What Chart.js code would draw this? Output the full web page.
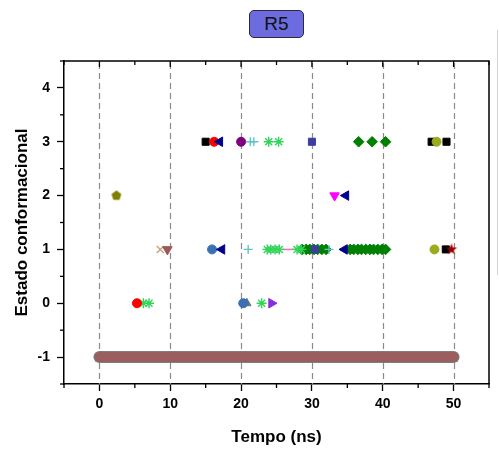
<!DOCTYPE html>
<html>
<head>
<meta charset="utf-8">
<script src="https://cdn.jsdelivr.net/npm/chart.js@4.4.1/dist/chart.umd.min.js"></script>
<style>
  html, body { margin: 0; padding: 0; background: #fff; }
  #wrap { position: relative; width: 499px; height: 454px; overflow: hidden; }
  #c { position: absolute; left: 0; top: 0; width: 499px; height: 454px; }
  #badge {
    position: absolute; left: 249px; top: 10px; width: 55px; height: 28px;
    box-sizing: border-box; background: #6c6ce0; border: 1px solid #2a2a3a;
    border-radius: 5px; color: #111; text-align: center;
    font: 19px "Liberation Sans", Arial, sans-serif; line-height: 26px;
  }
  #edge { position: absolute; left: 497px; top: 30px; width: 1px; height: 245px; background: #d2d2d2; }
</style>
</head>
<body>
<div id="wrap">
  <canvas id="c" width="499" height="454"></canvas>
  <div id="badge">R5</div>
  <div id="edge"></div>
</div>
<script>
// Axis ticks
const xTicks = [0, 10, 20, 30, 40, 50];
const yTicks = [-1, 0, 1, 2, 3, 4];

// Each series: [time (ns), conformational state]
const baseline = [[0, -1], [50, -1]];
const blackSquares = [[15.0, 3], [46.9, 3], [49.0, 3], [48.9, 1]];
const redCircles = [[16.2, 3], [5.3, 0]];
const navyTriangles = [[17.0, 3], [17.3, 1], [34.6, 1], [34.8, 2]];
const purpleCircles = [[20.0, 3]];
const tealPlus = [[21.3, 3], [21.8, 3], [21.0, 1], [32.4, 1]];
const greenAsterisks = [[23.9, 3], [25.3, 3], [23.7, 1], [24.2, 1], [24.8, 1], [25.4, 1],
                        [27.9, 1], [28.5, 1], [22.9, 0], [6.2, 0], [7.0, 0]];
const slateSquares = [[30.0, 3], [30.4, 1]];
const greenDiamonds = [[36.6, 3], [38.5, 3], [40.4, 3],
                       [28.6, 1], [29.2, 1], [29.7, 1], [30.3, 1], [30.8, 1], [31.4, 1], [32.0, 1],
                       [35.4, 1], [35.9, 1], [36.5, 1], [37.0, 1], [37.6, 1], [38.2, 1],
                       [38.7, 1], [39.3, 1], [39.9, 1], [40.4, 1]];
const oliveCircles = [[47.6, 3], [47.3, 1]];
const olivePentagons = [[2.4, 2]];
const magentaTriangles = [[33.2, 2]];
const tanCrosses = [[8.6, 1]];
const brownTriangles = [[9.6, 1]];
const steelCircles = [[15.9, 1], [20.3, 0]];
const greyTriangles = [[20.8, 0]];
const violetTriangles = [[24.3, 0]];
const redStars = [[49.7, 1]];
const pinkSegment = [[25.8, 1], [27.7, 1]];

// Custom marker glyphs not built into Chart.js
function glyph(size, color, pts) {
  const cv = document.createElement('canvas');
  cv.width = size; cv.height = size;
  const g = cv.getContext('2d');
  g.fillStyle = color;
  g.beginPath();
  pts.forEach(([a, r], i) => {
    const px = size / 2 + Math.cos(a) * r, py = size / 2 + Math.sin(a) * r;
    i ? g.lineTo(px, py) : g.moveTo(px, py);
  });
  g.closePath();
  g.fill();
  return cv;
}
const pentagon = glyph(12, '#808000',
  [0, 1, 2, 3, 4].map(i => [-Math.PI / 2 + i * 2 * Math.PI / 5, 5.2]));
const starGlyph = glyph(14, '#990000',
  Array.from({length: 10}, (_, i) => [-Math.PI / 2 + i * Math.PI / 5, i % 2 ? 2.4 : 6]));

function pts(arr) { return arr.map(([x, y]) => ({x, y})); }
function marker(arr, style, color, radius, extra) {
  return Object.assign({
    data: pts(arr), pointStyle: style, pointRadius: radius, pointHoverRadius: radius,
    backgroundColor: color, borderColor: color, pointBorderWidth: 1, showLine: false
  }, extra || {});
}

const datasets = [
  marker(navyTriangles, 'triangle', '#00008b', 5.5, {rotation: -90}),
  marker(redStars, starGlyph, '#990000', 6),
  marker(slateSquares, 'rect', '#3d3d9c', 5),
  marker(tealPlus, 'cross', '#5cc4c4', 4.5, {pointBorderWidth: 1.3}),
  marker(oliveCircles, 'circle', '#9aab1c', 4.5),
  marker(redCircles, 'circle', '#ff0000', 4.5),
  marker(purpleCircles, 'circle', '#800080', 4.5),
  marker(steelCircles, 'circle', '#3a70b4', 4.5),
  marker(greyTriangles, 'triangle', '#707070', 5),
  marker(violetTriangles, 'triangle', '#8a2be2', 5.5, {rotation: 90}),
  marker(magentaTriangles, 'triangle', '#ff00ff', 5.5, {rotation: 180}),
  marker(brownTriangles, 'triangle', '#9a5a5a', 5.5, {rotation: 180}),
  marker(tanCrosses, 'crossRot', '#c8a07c', 5, {pointBorderWidth: 1.4}),
  marker(olivePentagons, pentagon, '#808000', 6),
  marker(blackSquares, 'rect', '#000000', 5),
  marker(greenAsterisks, 'star', '#33d45a', 5, {pointBorderWidth: 1.4}),
  marker(greenDiamonds, 'rectRot', '#008000', 5.3),
  { data: pts(pinkSegment), showLine: true, borderColor: '#ff66cc', borderWidth: 1.5, pointRadius: 0 },
  // state -1 band, drawn underneath everything
  { data: pts(baseline), showLine: true, borderColor: '#9a5e5e', borderWidth: 10,
    borderCapStyle: 'round', pointRadius: 0 },
  { data: pts(baseline), showLine: true, borderColor: '#7d7d7d', borderWidth: 12,
    borderCapStyle: 'round', pointRadius: 0 }
];

const axisFont = { family: '"Liberation Sans", Arial, sans-serif', size: 14, weight: 'bold' };
const titleFont = { family: '"Liberation Sans", Arial, sans-serif', size: 17, weight: 'bold' };

// Dashed time grid, minor ticks and the closing top/right frame
const framePlugin = {
  id: 'frame',
  beforeDatasetsDraw(chart) {
    const {ctx, chartArea: a, scales: {x}} = chart;
    ctx.save();
    ctx.strokeStyle = '#8a8a8a';
    ctx.lineWidth = 1.2;
    ctx.setLineDash([6, 4]);
    xTicks.forEach(v => {
      const px = Math.round(x.getPixelForValue(v)) + 0.5;
      ctx.beginPath(); ctx.moveTo(px, a.top + 2); ctx.lineTo(px, a.bottom); ctx.stroke();
    });
    ctx.restore();
  },
  afterDraw(chart) {
    const {ctx, chartArea: a, scales: {x, y}} = chart;
    ctx.save();
    ctx.strokeStyle = '#000';
    ctx.lineWidth = 1.5;
    ctx.beginPath();
    ctx.moveTo(a.left, a.top); ctx.lineTo(a.right, a.top); ctx.lineTo(a.right, a.bottom);
    ctx.stroke();
    ctx.lineWidth = 1.3;
    for (let v = -5; v <= 55; v += 5) {
      const px = x.getPixelForValue(v);
      const major = v % 10 === 0 && v >= 0 && v <= 50;
      ctx.beginPath();
      ctx.moveTo(px, a.top); ctx.lineTo(px, a.top + (major ? 6 : 4));
      if (!major) { ctx.moveTo(px, a.bottom); ctx.lineTo(px, a.bottom + 4); }
      ctx.stroke();
    }
    for (let v = -1.5; v <= 4.5; v += 1) {
      const py = y.getPixelForValue(v);
      ctx.beginPath(); ctx.moveTo(a.left, py); ctx.lineTo(a.left - 4, py); ctx.stroke();
    }
    ctx.restore();
  }
};

new Chart(document.getElementById('c'), {
  type: 'scatter',
  data: { datasets },
  options: {
    responsive: false,
    devicePixelRatio: 1,
    animation: false,
    events: [],
    layout: { padding: { left: 5, right: 10, top: 61, bottom: 3 } },
    plugins: { legend: { display: false }, tooltip: { enabled: false } },
    scales: {
      x: {
        type: 'linear', min: -5, max: 55,
        afterBuildTicks: s => { s.ticks = xTicks.map(v => ({value: v})); },
        afterFit: s => { s.height = 67; },
        ticks: { font: axisFont, color: '#000', padding: 5, maxRotation: 0 },
        grid: { display: true, drawOnChartArea: false, drawTicks: true, tickLength: 7,
                tickColor: '#000', tickWidth: 1.3 },
        border: { display: true, color: '#000', width: 1.5 },
        title: { display: true, text: 'Tempo (ns)', font: titleFont, color: '#000',
                 padding: { top: 0, bottom: 3 } }
      },
      y: {
        type: 'linear', min: -1.5, max: 4.5,
        afterBuildTicks: s => { s.ticks = yTicks.map(v => ({value: v})); },
        afterFit: s => { s.width = 59; },
        ticks: { font: axisFont, color: '#000', padding: 7 },
        grid: { display: true, drawOnChartArea: false, drawTicks: true, tickLength: 7,
                tickColor: '#000', tickWidth: 1.3 },
        border: { display: true, color: '#000', width: 1.5 },
        title: { display: true, text: 'Estado conformacional', font: titleFont, color: '#000',
                 padding: { top: 7, bottom: 0 } }
      }
    }
  },
  plugins: [framePlugin]
});
</script>
</body>
</html>
